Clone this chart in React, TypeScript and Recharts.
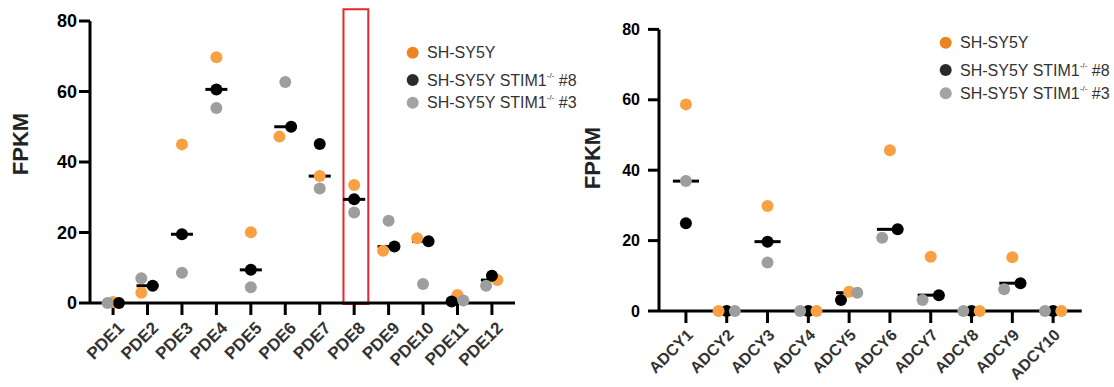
import React from 'react';
import { ScatterChart, Scatter, XAxis, YAxis, ReferenceLine, ReferenceArea, Legend } from 'recharts';

// ---------- data ----------
const pdeGenes = ['PDE1', 'PDE2', 'PDE3', 'PDE4', 'PDE5', 'PDE6', 'PDE7', 'PDE8', 'PDE9', 'PDE10', 'PDE11', 'PDE12'];
const pdeWT = [0.3, 2.9, 45.0, 69.7, 20.1, 47.2, 36.0, 33.5, 14.8, 18.4, 2.3, 6.5];
const pdeKO8 = [0, 4.9, 19.5, 60.6, 9.4, 50.0, 45.1, 29.4, 16.0, 17.5, 0.4, 7.7];
const pdeKO3 = [0, 7.0, 8.6, 55.3, 4.5, 62.7, 32.5, 25.7, 23.3, 5.4, 0.7, 4.9];
// horizontal spread of overlapping points (category units)
const pdeWTSpread = [0, -0.18, 0, 0, 0, -0.17, 0, 0, -0.16, -0.17, 0, 0.16];
const pdeKO8Spread = [0.17, 0.15, 0, 0, 0, 0.17, 0, 0, 0.17, 0.16, -0.17, 0];
const pdeKO3Spread = [-0.16, -0.18, 0, 0, 0, 0, 0, 0, 0, 0, 0.17, -0.17];

const adcyGenes = ['ADCY1', 'ADCY2', 'ADCY3', 'ADCY4', 'ADCY5', 'ADCY6', 'ADCY7', 'ADCY8', 'ADCY9', 'ADCY10'];
const adcyWT = [58.7, 0, 29.8, 0, 5.5, 45.7, 15.4, 0, 15.3, 0];
const adcyKO8 = [24.9, 0, 19.7, 0, 3.1, 23.2, 4.5, 0, 7.9, 0];
const adcyKO3 = [36.9, 0, 13.8, 0, 5.2, 20.8, 3.1, 0, 6.2, 0];
const adcyWTSpread = [0, -0.2, 0, 0.2, 0, 0, 0, 0.2, 0, 0.2];
const adcyKO8Spread = [0, 0, 0, 0, -0.2, 0.19, 0.2, 0, 0.2, 0];
const adcyKO3Spread = [0, 0.2, 0, -0.2, 0.2, -0.19, -0.2, -0.2, -0.2, -0.2];

const yTicks = [0, 20, 40, 60, 80];
const highlightGene = 'PDE8';

// ---------- styles ----------
const ORANGE = '#F9A043';
const BLACK = '#000000';
const GRAY = '#9E9E9E';
const LEG_ORANGE = '#EE8421';
const LEG_BLACK = '#2A2A2A';
const LEG_GRAY = '#A3A3A3';
const FONT = "'Liberation Sans', Arial, Helvetica, sans-serif";

type Pt = { x: number; y: number };
const toPoints = (vals: number[], spread: number[]): Pt[] =>
  vals.map((v, i) => ({ x: i + 1 + spread[i], y: v }));
const medians = (a: number[], b: number[], c: number[]) =>
  a.map((_, i) => [a[i], b[i], c[i]].sort((p, q) => p - q)[1]);

const dotShape = (fill: string) => (p: any) => <circle cx={p.cx} cy={p.cy} r={6} fill={fill} />;

const legendItems = [
  { color: LEG_ORANGE, label: 'SH-SY5Y', sup: '', suffix: '' },
  { color: LEG_BLACK, label: 'SH-SY5Y STIM1', sup: '-/-', suffix: ' #8' },
  { color: LEG_GRAY, label: 'SH-SY5Y STIM1', sup: '-/-', suffix: ' #3' },
];

const LegendBox = ({ rows }: { rows: number[] }) => (
  <svg width={180} height={80} style={{ overflow: 'visible', display: 'block' }}>
    {legendItems.map((it, i) => (
      <g key={i}>
        <circle cx={12.7} cy={rows[i]} r={6} fill={it.color} />
        <text x={27} y={rows[i] + 5.5} fontSize={16} fill="#333" fontFamily={FONT}>
          {it.label}
          {it.sup ? (
            <tspan fontSize={8} dy={-8}>
              {it.sup}
            </tspan>
          ) : null}
          {it.suffix ? <tspan dy={it.sup ? 8 : 0}>{it.suffix}</tspan> : null}
        </text>
      </g>
    ))}
  </svg>
);

const makeXTick = (names: string[], dx: number, dy: number, fs: number) => (props: any) => {
  const { x, y, payload } = props;
  const name = names[Math.round(payload.value) - 1] ?? '';
  return (
    <text
      x={0}
      y={0}
      transform={`translate(${x + dx},${y + dy}) rotate(-45)`}
      textAnchor="end"
      fontSize={fs}
      fontWeight="bold"
      fill="#333"
      fontFamily={FONT}
    >
      {name}
    </text>
  );
};

const yLabel = (cx: number, cy: number) => () => (
  <text
    x={cx}
    y={cy}
    transform={`rotate(-90 ${cx} ${cy})`}
    textAnchor="middle"
    dominantBaseline="central"
    fontSize={22}
    fontWeight="bold"
    fill="#222"
    fontFamily={FONT}
  >
    FPKM
  </text>
);

const axisLineStyle = { stroke: '#000', strokeWidth: 3 };

type PanelProps = {
  genes: string[];
  wt: number[];
  ko8: number[];
  ko3: number[];
  wtS: number[];
  ko8S: number[];
  ko3S: number[];
  width: number;
  margin: { top: number; right: number; bottom: number; left: number };
  yAxisWidth: number;
  xAxisHeight: number;
  xPad: [number, number];
  yTickMargin: number;
  yTickFont: number;
  xTickOffset: [number, number];
  xTickFont: number;
  labelPos: [number, number];
  legendPos: { left: number; top: number };
  legendRows: number[];
  order: ('wt' | 'ko8' | 'ko3')[];
  highlight?: number;
};

const Panel = (p: PanelProps) => {
  const meds = medians(p.wt, p.ko8, p.ko3);
  const series = {
    wt: { data: toPoints(p.wt, p.wtS), color: ORANGE, name: 'SH-SY5Y' },
    ko8: { data: toPoints(p.ko8, p.ko8S), color: BLACK, name: 'SH-SY5Y STIM1-/- #8' },
    ko3: { data: toPoints(p.ko3, p.ko3S), color: GRAY, name: 'SH-SY5Y STIM1-/- #3' },
  };
  const xTicks = p.genes.map((_, i) => i + 1);
  return (
    <ScatterChart width={p.width} height={387} margin={p.margin} style={{ fontFamily: FONT }}>
      <XAxis
        type="number"
        dataKey="x"
        domain={[1 - p.xPad[0], p.genes.length + p.xPad[1]]}
        ticks={xTicks}
        interval={0}
        allowDataOverflow
        height={p.xAxisHeight}
        tickSize={12}
        tickMargin={2}
        axisLine={axisLineStyle}
        tickLine={axisLineStyle}
        tick={makeXTick(p.genes, p.xTickOffset[0], p.xTickOffset[1], p.xTickFont)}
      />
      <YAxis
        type="number"
        dataKey="y"
        domain={[0, 80]}
        ticks={yTicks}
        interval={0}
        width={p.yAxisWidth}
        tickSize={11}
        tickMargin={p.yTickMargin}
        axisLine={axisLineStyle}
        tickLine={axisLineStyle}
        tick={{ fill: '#000', fontSize: p.yTickFont, fontWeight: 'bold', fontFamily: FONT }}
        label={yLabel(p.labelPos[0], p.labelPos[1])}
      />
      {p.highlight !== undefined ? (
        <ReferenceArea
          x1={p.highlight + 0.05 - 0.36}
          x2={p.highlight + 0.05 + 0.36}
          y1={-0.25}
          y2={83.3}
          fill="none"
          fillOpacity={0}
          stroke="#E5262E"
          strokeWidth={2}
          ifOverflow="visible"
        />
      ) : null}
      {meds.map((m, i) => (
        <ReferenceLine
          key={`med-${i}`}
          segment={[
            { x: i + 1 - 0.32, y: m },
            { x: i + 1 + 0.32, y: m },
          ]}
          stroke="#000"
          strokeWidth={3}
          ifOverflow="visible"
        />
      ))}
      {p.order.map((k) => (
        <Scatter
          key={k}
          name={series[k].name}
          data={series[k].data}
          fill={series[k].color}
          shape={dotShape(series[k].color)}
          isAnimationActive={false}
        />
      ))}
      <Legend
        layout="vertical"
        align="center"
        verticalAlign="middle"
        wrapperStyle={{ left: p.legendPos.left, top: p.legendPos.top, width: 180, height: 80 }}
        content={() => <LegendBox rows={p.legendRows} />}
      />
    </ScatterChart>
  );
};

export default function App() {
  const hi = pdeGenes.indexOf(highlightGene) + 1;
  return (
    <div style={{ position: 'absolute', left: 0, top: 0, width: 1114, height: 387, background: '#fff', fontFamily: FONT }}>
      <div style={{ position: 'absolute', left: 0, top: 0 }}>
        <Panel
          genes={pdeGenes}
          wt={pdeWT}
          ko8={pdeKO8}
          ko3={pdeKO3}
          wtS={pdeWTSpread}
          ko8S={pdeKO8Spread}
          ko3S={pdeKO3Spread}
          width={575}
          margin={{ top: 21, right: 60, bottom: 0, left: 0 }}
          yAxisWidth={90}
          xAxisHeight={84}
          xPad={[0.67, 0.67]}
          yTickMargin={2}
          yTickFont={18}
          xTickOffset={[12, 12]}
          xTickFont={17}
          labelPos={[20, 144]}
          legendPos={{ left: 400, top: 40 }}
          legendRows={[12.7, 40, 62.7]}
          order={['wt', 'ko8', 'ko3']}
          highlight={hi}
        />
      </div>
      <div style={{ position: 'absolute', left: 575, top: 0 }}>
        <Panel
          genes={adcyGenes}
          wt={adcyWT}
          ko8={adcyKO8}
          ko3={adcyKO3}
          wtS={adcyWTSpread}
          ko8S={adcyKO8Spread}
          ko3S={adcyKO3Spread}
          width={539}
          margin={{ top: 29.4, right: 32.3, bottom: 0, left: 0 }}
          yAxisWidth={84}
          xAxisHeight={76}
          xPad={[0.66, 0.7]}
          yTickMargin={8}
          yTickFont={16}
          xTickOffset={[8, 11]}
          xTickFont={16}
          labelPos={[17, 158]}
          legendPos={{ left: 358, top: 30 }}
          legendRows={[12.7, 40, 63.3]}
          order={['ko8', 'wt', 'ko3']}
        />
      </div>
    </div>
  );
}
